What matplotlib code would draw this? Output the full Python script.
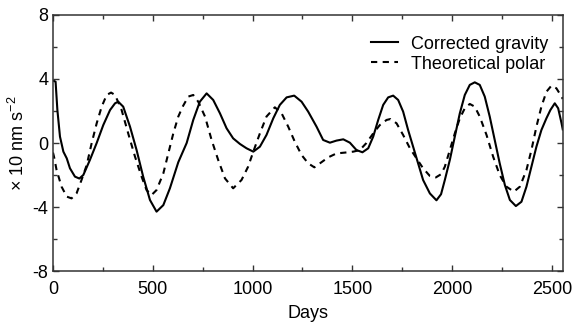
import numpy as np
import matplotlib.pyplot as plt
from matplotlib.ticker import MultipleLocator

plt.rcParams['font.family'] = ['Liberation Sans', 'DejaVu Sans']
plt.rcParams['axes.unicode_minus'] = False
plt.rcParams['mathtext.fontset'] = 'custom'
plt.rcParams['mathtext.rm'] = 'Liberation Sans'
plt.rcParams['mathtext.default'] = 'regular'

# Corrected gravity (solid)
grav_days = [0, 13, 22, 35, 52, 69, 85, 110, 132, 152, 185, 219, 252, 286, 311, 327, 352,
             386, 419, 452, 486, 519, 553, 586, 628, 670, 703, 736, 770, 803, 837, 870,
             903, 937, 970, 1004, 1037, 1070, 1104, 1137, 1171, 1209, 1246, 1279, 1321,
             1354, 1388, 1421, 1455, 1488, 1521, 1551, 1580, 1605, 1630, 1655, 1680, 1705,
             1730, 1755, 1780, 1805, 1830, 1855, 1889, 1922, 1945, 1964, 1989, 2014, 2039,
             2064, 2089, 2114, 2139, 2164, 2189, 2214, 2239, 2265, 2290, 2320, 2348, 2373,
             2398, 2423, 2448, 2473, 2493, 2515, 2532, 2549, 2555]
grav_vals = [3.9, 3.83, 2.06, 0.4, -0.54, -0.96, -1.58, -2.1, -2.22, -2.0, -1.06, 0.0, 1.12,
             2.06, 2.48, 2.58, 2.27, 1.02, -0.44, -2.1, -3.56, -4.29, -3.88, -2.83, -1.2,
             0.0, 1.44, 2.58, 3.1, 2.69, 1.85, 0.92, 0.29, -0.06, -0.33, -0.54, -0.23, 0.5,
             1.54, 2.38, 2.85, 2.96, 2.58, 1.96, 1.02, 0.19, 0.02, 0.15, 0.23, 0.02, -0.44,
             -0.58, -0.33, 0.4, 1.44, 2.38, 2.85, 2.96, 2.69, 1.96, 0.81, -0.23, -1.27,
             -2.31, -3.15, -3.58, -3.2, -2.31, -1.06, 0.4, 1.85, 3.0, 3.63, 3.79, 3.63, 2.9,
             1.65, 0.19, -1.27, -2.63, -3.56, -3.94, -3.67, -2.73, -1.48, -0.23, 0.81, 1.54,
             2.06, 2.48, 2.17, 1.23, 0.85]

# Theoretical polar (dashed)
polar_days = [0, 5, 18, 43, 69, 93, 118, 143, 169, 194, 219, 244, 269, 291, 311, 344, 377,
              411, 444, 469, 494, 519, 553, 578, 603, 628, 650, 678, 703, 728, 762, 795,
              828, 862, 903, 945, 978, 1004, 1037, 1070, 1112, 1146, 1179, 1212, 1246, 1279,
              1310, 1338, 1379, 1421, 1463, 1505, 1538, 1571, 1605, 1638, 1672, 1692, 1722,
              1755, 1789, 1822, 1855, 1889, 1919, 1945, 1964, 1989, 2014, 2039, 2064, 2089,
              2114, 2139, 2173, 2206, 2239, 2273, 2310, 2340, 2373, 2398, 2423, 2448, 2473,
              2498, 2523, 2549, 2555]
polar_vals = [-0.6, -0.85, -1.69, -2.73, -3.35, -3.46, -3.15, -2.31, -1.38, 0.0, 1.23, 2.27,
              3.0, 3.15, 3.0, 2.06, 0.6, -0.85, -2.1, -2.94, -3.25, -2.94, -1.9, -0.65, 0.6,
              1.65, 2.27, 2.9, 3.0, 2.58, 1.65, 0.19, -1.06, -2.21, -2.83, -2.31, -1.48,
              -0.54, 0.6, 1.65, 2.23, 1.85, 1.02, 0.08, -0.75, -1.27, -1.52, -1.27, -0.9,
              -0.65, -0.6, -0.54, -0.44, 0.0, 0.6, 1.12, 1.44, 1.5, 1.23, 0.5, -0.33, -0.96,
              -1.58, -2.06, -2.15, -1.95, -1.48, -0.44, 0.6, 1.54, 2.17, 2.44, 2.27, 1.65,
              0.5, -0.85, -2.0, -2.73, -3.04, -2.73, -1.69, -0.44, 1.02, 2.27, 3.2, 3.58,
              3.42, 2.9, 2.75]

fig = plt.figure(figsize=(5.76, 3.25), dpi=100)
ax = fig.add_axes([0.092, 0.166, 0.885, 0.788])

ax.plot(grav_days, grav_vals, color='black', lw=1.5, label='Corrected gravity')
ax.plot(polar_days, polar_vals, color='black', lw=1.5, ls=(0, (3, 2.6)),
        label='Theoretical polar')

ax.set_xlim(0, 2555)
ax.set_ylim(-8, 8)
ax.xaxis.set_major_locator(MultipleLocator(500))
ax.xaxis.set_minor_locator(MultipleLocator(250))
ax.yaxis.set_major_locator(MultipleLocator(4))
ax.yaxis.set_minor_locator(MultipleLocator(2))
ax.tick_params(which='both', direction='in', top=True, right=True, labelsize=13,
               width=1.0, color='#333333')
ax.tick_params(which='major', length=4)
ax.tick_params(which='minor', length=3)
ax.tick_params(axis='x', which='major', pad=7)
for s in ax.spines.values():
    s.set_linewidth(1.1)
    s.set_color('#333333')

ax.set_xlabel('Days', fontsize=13, labelpad=5)
ax.set_ylabel('× 10 nm s$^{-2}$', fontsize=13, labelpad=3)

ax.legend(loc='upper right', frameon=False, fontsize=13, handlelength=1.5,
          handletextpad=0.7, labelspacing=0.15, borderaxespad=0.4,
          bbox_to_anchor=(1.0, 0.975))

fig.savefig('out.png', dpi=100)
